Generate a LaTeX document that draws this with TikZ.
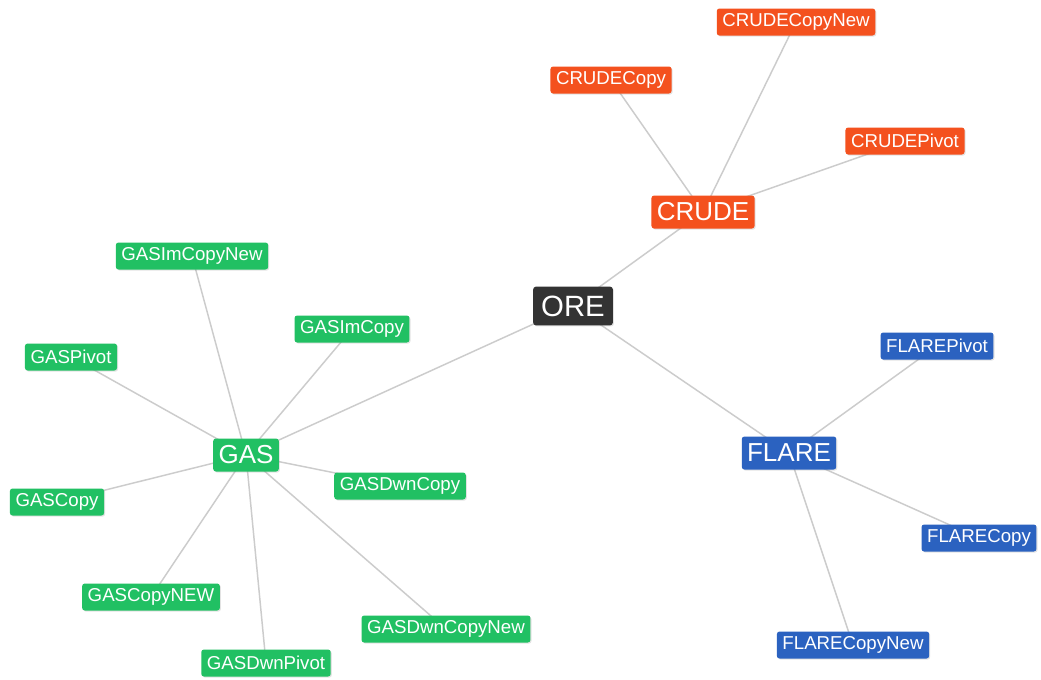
\documentclass[tikz,border=0pt]{standalone}
\usepackage{fontspec}
\setmainfont{Liberation Sans}
\usetikzlibrary{shadows}
\pgfdeclarelayer{bg}
\pgfsetlayers{bg,main}
\definecolor{rootc}{HTML}{333333}
\definecolor{crudec}{HTML}{F4511E}
\definecolor{gasc}{HTML}{21C063}
\definecolor{flarec}{HTML}{2B62C0}
\definecolor{edgec}{HTML}{CCCCCC}
\tikzset{
  x=0.75pt, y=-0.75pt,
  box/.style={rounded corners=2pt, text=white, inner ysep=0pt,
    drop shadow={opacity=0.22, shadow xshift=0.8pt, shadow yshift=-0.8pt}},
  leaf/.style={box, minimum height=20.25pt, inner xsep=4.2pt, font=\fontsize{14}{15}\selectfont},
  hub/.style={box, minimum height=24.75pt, inner xsep=4pt, font=\fontsize{19.5}{20}\selectfont},
  root/.style={box, fill=rootc, minimum height=29pt, inner xsep=6pt, font=\fontsize{22}{23}\selectfont},
  link/.style={draw=edgec, line width=1.1pt},
}
\begin{document}
\begin{tikzpicture}
\useasboundingbox (0,0) rectangle (1041,679);

% root and category hubs
\node[root] (ore) at (573,306) {ORE};
\node[hub, fill=crudec] (crude) at (703,212) {CRUDE};
\node[hub, fill=gasc] (gas) at (246,455) {GAS};
\node[hub, fill=flarec] (flare) at (789,453) {FLARE};

% crude leaves
\node[leaf, fill=crudec] (cc) at (611,80) {CRUDECopy};
\node[leaf, fill=crudec] (ccn) at (796,22) {CRUDECopyNew};
\node[leaf, fill=crudec] (cp) at (905,141) {CRUDEPivot};

% gas leaves
\node[leaf, fill=gasc] (gicn) at (192,256) {GASImCopyNew};
\node[leaf, fill=gasc] (gic) at (352,329) {GASImCopy};
\node[leaf, fill=gasc] (gp) at (71,357) {GASPivot};
\node[leaf, fill=gasc] (gdc) at (400,486) {GASDwnCopy};
\node[leaf, fill=gasc] (gc) at (57,502) {GASCopy};
\node[leaf, fill=gasc] (gcn) at (151,597) {GASCopyNEW};
\node[leaf, fill=gasc] (gdp) at (266,663) {GASDwnPivot};
\node[leaf, fill=gasc] (gdcn) at (446,629) {GASDwnCopyNew};

% flare leaves
\node[leaf, fill=flarec] (fp) at (937,346) {FLAREPivot};
\node[leaf, fill=flarec] (fc) at (979,538) {FLARECopy};
\node[leaf, fill=flarec] (fcn) at (853,645) {FLARECopyNew};

% white page and connectors, underneath the boxes
\begin{pgfonlayer}{bg}
\fill[white] (0,0) rectangle (1041,679);
\foreach \a/\b in {ore/crude, ore/gas, ore/flare,
                   crude/cc, crude/ccn, crude/cp,
                   gas/gicn, gas/gic, gas/gp, gas/gdc, gas/gc, gas/gcn, gas/gdp, gas/gdcn,
                   flare/fp, flare/fc, flare/fcn}
  \draw[link] (\a.center) -- (\b.center);
\end{pgfonlayer}
\end{tikzpicture}
\end{document}
